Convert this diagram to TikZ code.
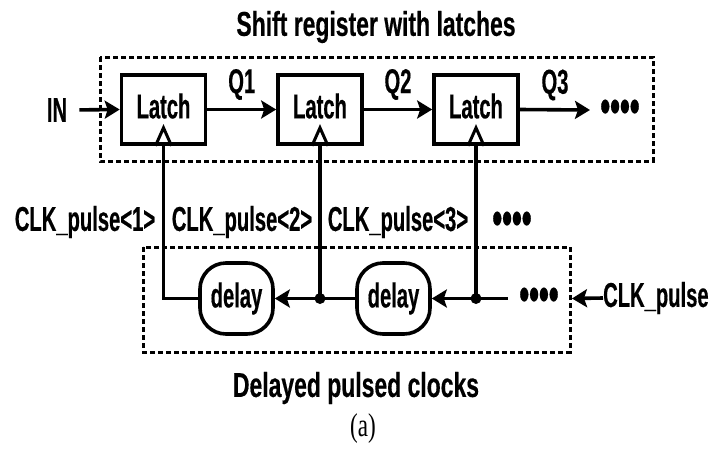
\documentclass[tikz,border=0pt]{standalone}
\usepackage{fontspec}
\setmainfont{Liberation Sans}
\newfontfamily\labf[FakeStretch=0.585, FakeBold=0.4]{Liberation Sans}
\newfontfamily\titf[FakeStretch=0.665, FakeBold=0.4]{Liberation Sans}
\newfontfamily\capf[FakeStretch=0.7]{Liberation Serif}
\usetikzlibrary{arrows.meta}
\begin{document}
\begin{tikzpicture}[x=1pt,y=-1pt,
  lab/.style={font=\labf\bfseries\fontsize{34.5}{34.5}\selectfont, inner sep=0pt},
  tit/.style={font=\titf\bfseries\fontsize{34.5}{34.5}\selectfont, inner sep=0pt},
  dots/.style={font=\labf\bfseries\fontsize{48}{48}\selectfont, inner sep=0pt},
  latchbox/.style={draw, line width=3.6pt, minimum width=84pt, minimum height=69pt, inner sep=0pt},
  delaybox/.style={draw, line width=3.6pt, rounded corners=26pt, minimum width=73pt, minimum height=71pt, inner sep=0pt, lab},
  grp/.style={draw, line width=3pt, dash pattern=on 5pt off 3pt},
  wire/.style={line width=3.6pt},
  arr/.style={wire, -{Stealth[length=15pt,width=18pt,inset=3pt]}},
  clk/.style={line width=3pt, line join=miter},
  dot/.style={fill, circle, inner sep=0pt, minimum size=11pt}
]
\useasboundingbox (0,0) rectangle (715,459);
% groups
\draw[grp] (100,57) rectangle (653,161);
\draw[grp] (143,247) rectangle (570,352);
\node[tit] (title) at (376,27) {Shift register with latches};
\node[tit] (bottitle) at (356,388) {Delayed pulsed clocks};
\node[font=\capf\fontsize{33}{33}\selectfont, inner sep=0pt] (cap) at (363,429) {(a)};
% latches
\node[latchbox] (L1) at (163.5,109.5) {};
\node[latchbox] (L2) at (320,109.5) {};
\node[latchbox] (L3) at (476,109.5) {};
\node[lab] at (163.5,106) {Latch};
\node[lab] at (320,106) {Latch};
\node[lab] at (476,106) {Latch};
\foreach \n in {L1,L2,L3}{
  \draw[clk] ([xshift=-8pt]\n.south) -- ([yshift=18pt]\n.south) -- ([xshift=8pt]\n.south);
}
% inputs / outputs
\node[lab] (in) at (57,110) {IN};
\draw[arr, shorten <=12pt] (in.east) -- (L1.west);
\draw[arr] (L1.east) -- (L2.west) node[lab, midway, yshift=25pt] (q1) {Q1};
\draw[arr] (L2.east) -- (L3.west) node[lab, midway, yshift=25pt] (q2) {Q2};
\coordinate (o3) at (590,110);
\draw[arr] (L3.east) -- (o3);
\node[lab] (q3) at (555,85) {Q3};
\node[dots] (dotsA) at (620,111) {••••};
% delays
\node[delaybox] (D1) at (236.5,298.5) {delay};
\node[delaybox] (D2) at (393.5,298.5) {delay};
\coordinate (J2) at (320,298.5);
\coordinate (J3) at (476,298.5);
\coordinate (E3) at (508,298.5);
\coordinate (cin) at (572,298.5);
\draw[wire] (D1.west) -| (L1.south);
\draw[wire] (D2.west) -- (J2);
\draw[arr] (J2) -- (D1.east);
\draw[wire] (J2) -- (L2.south);
\draw[arr] (J3) -- (D2.east);
\draw[wire] (J3) -- (L3.south);
\draw[wire] (J3) -- (E3);
\node[dot] at (J2) {};
\node[dot] at (J3) {};
\node[dots] (dotsB) at (539,299) {••••};
\node[lab, anchor=west] (clkin) at (603,298) {CLK\_pulse};
\draw[arr] (clkin.west) -- (cin);
% clock labels
\node[lab] (c1) at (85,222) {CLK\_pulse<1>};
\node[lab] (c2) at (242,222) {CLK\_pulse<2>};
\node[lab] (c3) at (398,222) {CLK\_pulse<3>};
\node[dots] (dotsC) at (512,223) {••••};
\end{tikzpicture}
\end{document}
